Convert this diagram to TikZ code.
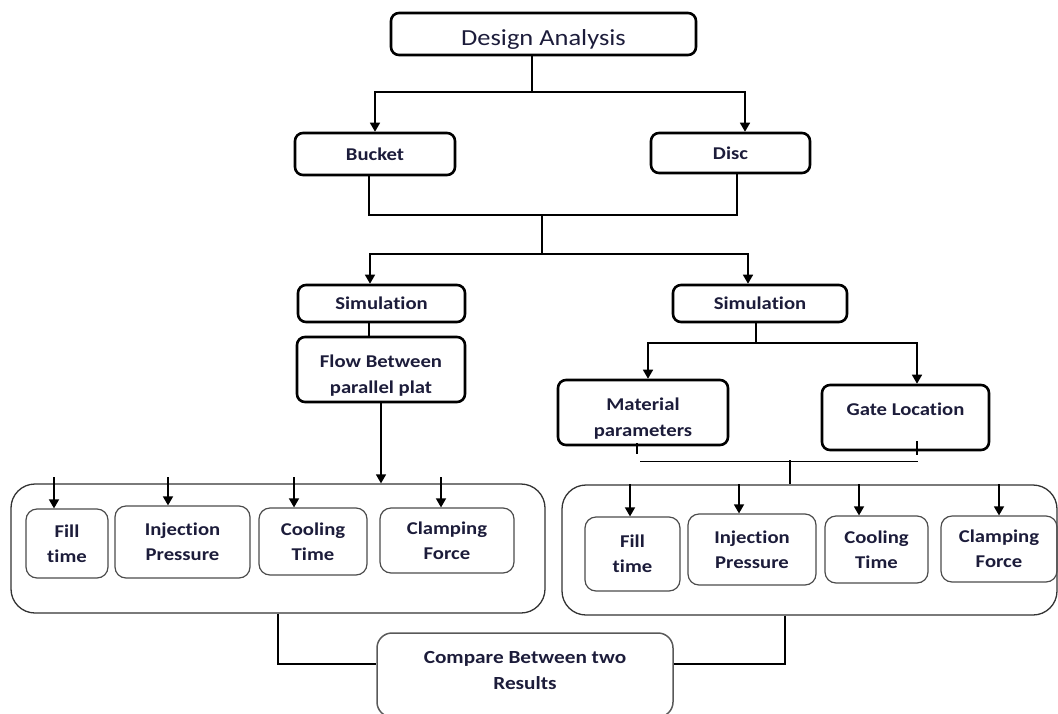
\documentclass[tikz,border=0pt]{standalone}
\usepackage{fontspec}
\setmainfont{Carlito}[FakeStretch=1.15, Ligatures=NoCommon]
\usepackage{tikz}
\usetikzlibrary{arrows.meta}
\definecolor{inkblue}{RGB}{28,28,58}

\begin{document}
\begin{tikzpicture}[
  x=1pt, y=-1pt,
  main/.style={draw, line width=2.6pt, rounded corners=8pt, inner sep=0pt,
               align=center, text=inkblue, font=\fontsize{18}{26}\selectfont\bfseries},
  group/.style={draw=black!80, line width=1.3pt, rounded corners=24pt, inner sep=0pt},
  item/.style={draw=black!70, line width=1.2pt, rounded corners=11pt, inner sep=0pt,
               align=center, text=inkblue, font=\fontsize{18}{25}\selectfont\bfseries},
  res/.style={draw=black!65, line width=1.5pt, rounded corners=15pt, inner sep=0pt,
              align=center, text=inkblue, font=\fontsize{18.5}{26}\selectfont\bfseries},
  arr/.style={-{Triangle[length=9pt,width=10pt]}, line width=1.5pt},
  lin/.style={line width=1.5pt}
]
\path[use as bounding box, clip] (0,0) rectangle (1058,713);

%% Nodes
\node[main, font=\fontsize{23}{27}\selectfont, text height=22pt, text depth=0pt,
      minimum width=305pt, minimum height=42pt] (design) at (543.5,34) {Design Analysis};
\node[main, minimum width=160pt, minimum height=42pt] (bucket) at (375,154)   {Bucket};
\node[main, minimum width=159pt, minimum height=40pt] (disc)   at (730.5,153) {Disc};
\node[main, minimum width=167pt, minimum height=37pt] (simL)   at (381.5,303.5) {Simulation};
\node[main, minimum width=174pt, minimum height=37pt] (simR)   at (760,303.5)   {Simulation};
\node[main, minimum width=168pt, minimum height=65pt, text height=51pt, text depth=4pt]
                                                      (flow)   at (381,369.5)   {Flow Between\\parallel plat};
\node[main, minimum width=170pt, minimum height=65pt, text height=51pt, text depth=4pt]
                                                      (material) at (643,412.5) {Material\\parameters};
\node[main, minimum width=167pt, minimum height=65pt, text height=12pt, text depth=17pt]
                                                      (gate)   at (905.5,417.5) {Gate Location};

%% Result groups
\node[group, minimum width=534pt, minimum height=129pt] (leftgrp)  at (278,548.5) {};
\node[group, minimum width=495pt, minimum height=130pt] (rightgrp) at (809.5,550) {};

\node[item, minimum width=82pt,  minimum height=69pt] (fillL)  at (67,543.5)  {Fill\\time};
\node[item, minimum width=135pt, minimum height=72pt] (injL)   at (182.5,542) {Injection\\Pressure};
\node[item, minimum width=108pt, minimum height=67pt] (coolL)  at (313,541.5) {Cooling\\Time};
\node[item, minimum width=134pt, minimum height=65pt] (clampL) at (447,540.5) {Clamping\\Force};

\node[item, minimum width=95pt,  minimum height=74pt] (fillR)  at (632.5,554) {Fill\\time};
\node[item, minimum width=128pt, minimum height=71pt] (injR)   at (752,549.5) {Injection\\Pressure};
\node[item, minimum width=103pt, minimum height=67pt] (coolR)  at (876.5,549.5) {Cooling\\Time};
\node[item, minimum width=116pt, minimum height=66pt] (clampR) at (999,549)   {Clamping\\Force};

\node[res, minimum width=296pt, minimum height=84pt, text height=32pt, text depth=4pt]
                                                     (compare) at (525,675) {Compare Between two\\Results};

%% Design Analysis -> Bucket / Disc
\coordinate (split1) at (532,92);
\draw[lin] ([xshift=-11.5pt]design.south) -- (split1);
\draw[arr] (split1) -| (bucket.north);
\draw[arr] (split1) -| ([xshift=14.5pt]disc.north);

%% Bucket + Disc -> Simulation
\coordinate (join1) at (542,215);
\coordinate (split2) at (542,254);
\draw[lin] ([xshift=-6pt]bucket.south) |- (join1) -| ([xshift=6.5pt]disc.south);
\draw[lin] (join1) -- (split2);
\draw[arr] (split2) -| ([xshift=-11.5pt]simL.north);
\draw[arr] (split2) -| ([xshift=-12pt]simR.north);

%% Left branch
\draw[lin] ([xshift=-12.5pt]simL.south) -- ([xshift=-12pt]flow.north);
\draw[arr] (flow.south) -- (flow.south |- leftgrp.north);
\draw[arr] ([xshift=-13pt,yshift=31pt]fillL.north)   -- ([xshift=-13pt]fillL.north);
\draw[arr] ([xshift=-14.5pt,yshift=28pt]injL.north)  -- ([xshift=-14.5pt]injL.north);
\draw[arr] ([xshift=-19pt,yshift=30pt]coolL.north)   -- ([xshift=-19pt]coolL.north);
\draw[arr] ([xshift=-6pt,yshift=30pt]clampL.north)   -- ([xshift=-6pt]clampL.north);

%% Right branch
\coordinate (split3) at (756,343);
\draw[lin] ([xshift=-4pt]simR.south) -- (split3);
\draw[arr] (split3) -| ([xshift=5pt]material.north);
\draw[arr] (split3) -| ([xshift=11.5pt]gate.north);
\draw[lin] ([xshift=-6pt,yshift=3pt]material.south) -- ([xshift=-6pt,yshift=-8pt]material.south);
\draw[lin] ([xshift=11.5pt,yshift=10pt]gate.south)  -- ([xshift=11.5pt,yshift=-4pt]gate.south);
\coordinate (join2) at (790,460);
\draw[lin] ([xshift=-3pt,yshift=-15pt]material.south) -- ([xshift=12.5pt,yshift=-10pt]gate.south);
\draw[lin] (join2) -- (join2 |- rightgrp.north);
\draw[arr] ([xshift=-2.5pt,yshift=32pt]fillR.north) -- ([xshift=-2.5pt]fillR.north);
\draw[arr] ([xshift=-13pt,yshift=29pt]injR.north)   -- ([xshift=-13pt]injR.north);
\draw[arr] ([xshift=-17.5pt,yshift=31pt]coolR.north) -- ([xshift=-17.5pt]coolR.north);
\draw[arr] ([yshift=31pt]clampR.north)               -- (clampR.north);

%% Groups -> Compare
\draw[lin] (leftgrp.south) |- ([yshift=11pt]compare.west);
\draw[lin] ([xshift=-24.5pt]rightgrp.south) |- ([yshift=11pt]compare.east);

\end{tikzpicture}
\end{document}
